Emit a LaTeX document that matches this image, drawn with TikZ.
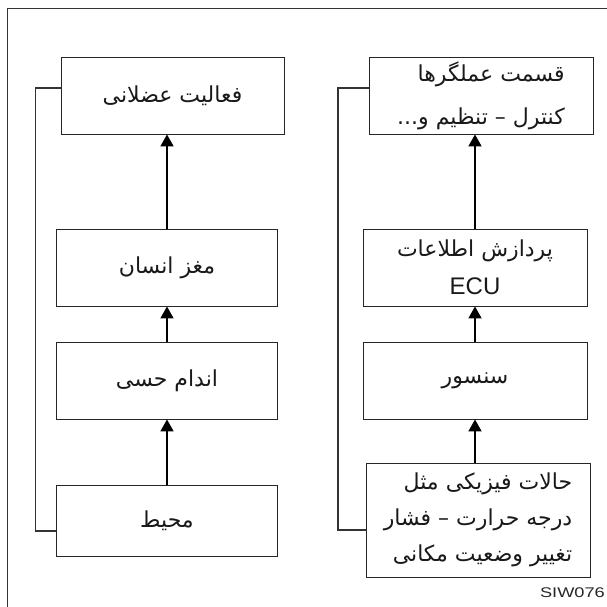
\documentclass[tikz,border=0pt]{standalone}
\usepackage{fontspec}
\setmainfont{Liberation Sans}
\newfontfamily\arabicfont[Script=Arabic]{DejaVu Sans}
\TeXXeTstate=1
\usetikzlibrary{arrows.meta}
\tikzset{
  boxnode/.style={draw=black!85, line width=0.9pt, rectangle, inner sep=0pt,
    font=\arabicfont\fontsize{22}{36}\selectfont, text=black!90},
  uparrow/.style={line width=1.8pt, -{Triangle[width=13pt,length=12pt]}},
  fbline/.style={draw=black!80, line width=1.1pt},
  frameline/.style={draw=black!80, line width=1pt}
}
\begin{document}
\begin{tikzpicture}[x=1pt,y=-1pt]
\useasboundingbox (0,0) rectangle (607,607);
% frame
\coordinate (ftr) at (607,9);
\coordinate (ftl) at (7,9);
\coordinate (fbl) at (7,607);
\draw[frameline] (ftr) -- (ftl) -- (fbl);
% left column
\node[boxnode, minimum width=223pt, minimum height=77pt] (A) at (172.5,95.5) {\beginR فعالیت عضلانی\endR};
\node[boxnode, minimum width=221pt, minimum height=77pt] (B) at (167,267.5) {\beginR مغز انسان\endR};
\node[boxnode, minimum width=221pt, minimum height=77pt] (C) at (167,380.5) {\beginR اندام حسی\endR};
\node[boxnode, minimum width=221pt, minimum height=71pt] (D) at (167,520.5) {\beginR محیط\endR};
% right column
\node[boxnode, minimum width=224pt, minimum height=77pt, align=right] (E) at (481,95.5) {\beginR قسمت عملگرها\endR\\[7pt]\beginR کنترل – تنظیم و...\endR};
\node[boxnode, minimum width=224pt, minimum height=77pt, align=center] (F) at (475,267.5) {\beginR پردازش اطلاعات\endR\\[2pt]{\fontspec{Liberation Sans}\fontsize{24}{36}\selectfont ECU}};
\node[boxnode, minimum width=224pt, minimum height=77pt] (G) at (475,380.5) {\beginR سنسور\endR};
\node[boxnode, minimum width=224pt, minimum height=114pt, align=right] (H) at (478,520) {\beginR حالات فیزیکی مثل\endR\\\beginR درجه حرارت – فشار\endR\\\beginR تغییر وضعیت مکانی\endR};
% arrows
\draw[uparrow] (D.north) -- (C.south);
\draw[uparrow] (C.north) -- (B.south);
\draw[uparrow] (B.north) -- (B.north |- A.south);
\draw[uparrow] (G.south |- H.north) -- (G.south);
\draw[uparrow] (G.north) -- (F.south);
\draw[uparrow] (F.north) -- (F.north |- E.south);
% feedback lines
\coordinate (la1) at (35.7,88);
\coordinate (la2) at (35.7,531);
\coordinate (ra1) at (338,88);
\coordinate (ra2) at (338,530);
\draw[fbline] (A.west |- la1) -- (la1) -- (la2) -- (D.west |- la2);
\draw[fbline] (E.west |- ra1) -- (ra1) -- (ra2) -- (H.west |- ra2);
% label
\node[font=\fontsize{14}{14}\selectfont, text=black!85, anchor=east, inner sep=0pt] (lbl) at (605,593) {\scalebox{1.3}[1]{SIW076}};
\end{tikzpicture}
\end{document}
